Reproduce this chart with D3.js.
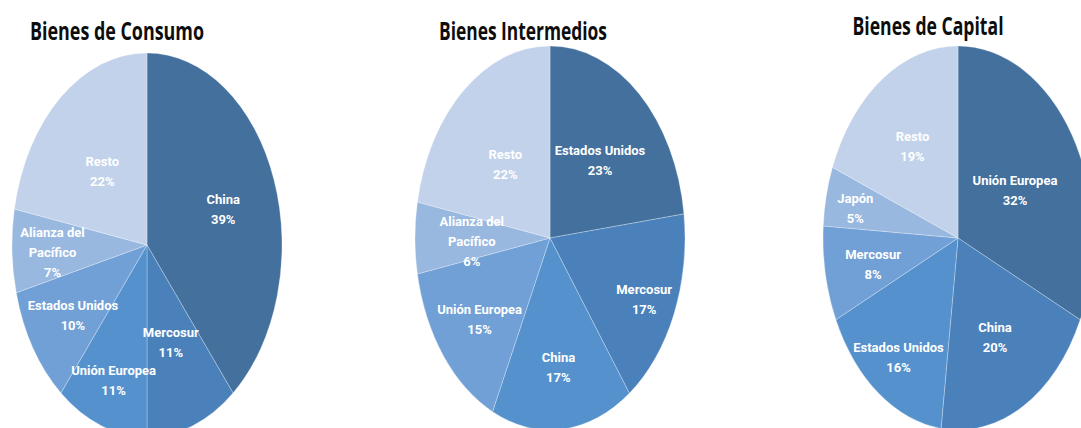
<!DOCTYPE html>
<html>
<head>
<meta charset="utf-8" />
<title>Bienes por destino</title>
<style>
    html, body { margin: 0; padding: 0; background: #fff; }
    svg { display: block; }
    .title { font-family: 'Open Sans', sans-serif; font-weight: bold; fill: #0d0d0d; }
    .lbl { font-family: 'Liberation Sans Narrow', 'Roboto', sans-serif; font-weight: bold; fill: #fff; }
</style>
</head>
<body>
<div class="canvas"></div>
<script src="https://d3js.org/d3.v7.min.js"></script>
<script>
    var width = 1081;
    var height = 428;

    var titles = ["Bienes de Consumo", "Bienes Intermedios", "Bienes de Capital"];

    var consumoNames = ["China", "Mercosur", "Unión Europea", "Estados Unidos", "Alianza del|Pacífico", "Resto"];
    var consumoValues = [39, 11, 11, 10, 7, 22];

    var intermediosNames = ["Estados Unidos", "Mercosur", "China", "Unión Europea", "Alianza del|Pacífico", "Resto"];
    var intermediosValues = [23, 17, 17, 15, 6, 22];

    var capitalNames = ["Unión Europea", "China", "Estados Unidos", "Mercosur", "Japón", "Resto"];
    var capitalValues = [32, 20, 16, 8, 5, 19];

    // slice colours, darkest first (Excel blue gradient)
    var colors = ["#43709d", "#4a81bb", "#5592cd", "#71a0d6", "#99b8e0", "#c1d2ea"];

    // label distance from centre, as a fraction of the radius ("best fit" look)
    var labelPos = [
        [0.60, 0.52, 0.73, 0.65, 0.70, 0.52],
        [0.56, 0.76, 0.66, 0.66, 0.58, 0.52],
        [0.50, 0.57, 0.75, 0.64, 0.78, 0.60]
    ];

    var charts = [
        { title: titles[0], names: consumoNames, values: consumoValues, cx: 147, cy: 245, tx: 117, ty: 40, tw: 174 },
        { title: titles[1], names: intermediosNames, values: intermediosValues, cx: 550, cy: 238, tx: 523, ty: 40, tw: 168 },
        { title: titles[2], names: capitalNames, values: capitalValues, cx: 958, cy: 238, tx: 928, ty: 35, tw: 151 }
    ];

    var rx = 135, ry = 192, r = 100;

    var svg = d3.select(".canvas")
        .append("svg")
        .attr("width", width)
        .attr("height", height);

    var pie = d3.pie().sort(null).value(function(d){ return d.v; });
    var arc = d3.arc().innerRadius(0).outerRadius(r);

    charts.forEach(function(c, ci) {
        var data = c.names.map(function(n, i){ return { name: n, v: c.values[i], i: i }; });
        var arcs = pie(data);

        var g = svg.append("g")
            .attr("transform", "translate(" + c.cx + "," + c.cy + ")");

        g.append("g")
            .attr("transform", "scale(" + (rx / r) + "," + (ry / r) + ")")
            .selectAll("path")
            .data(arcs)
            .enter()
            .append("path")
            .attr("d", arc)
            .attr("fill", function(d){ return colors[d.data.i]; })
            .attr("stroke", "rgba(255,255,255,0.35)")
            .attr("stroke-width", 0.8)
            .style("vector-effect", "non-scaling-stroke");

        var labels = g.selectAll("text.lbl")
            .data(arcs)
            .enter()
            .append("text")
            .attr("class", "lbl")
            .attr("text-anchor", "middle")
            .attr("font-size", 13)
            .attr("transform", function(d){
                var k = labelPos[ci][d.data.i] * r;
                var p = d3.arc().innerRadius(k).outerRadius(k).centroid(d);
                return "translate(" + (p[0] * rx / r) + "," + (p[1] * ry / r) + ")";
            });

        labels.each(function(d){
            var lines = d.data.name.split("|").concat([d.data.v + "%"]);
            var t = d3.select(this);
            var y0 = -(lines.length - 1) * 20 / 2 + 8;
            lines.forEach(function(l, k){
                t.append("tspan").attr("x", 0).attr("y", y0 + k * 20).text(l);
            });
        });

        svg.append("text")
            .attr("class", "title")
            .attr("x", c.tx)
            .attr("y", c.ty)
            .attr("text-anchor", "middle")
            .attr("font-size", 25)
            .attr("textLength", c.tw)
            .attr("lengthAdjust", "spacingAndGlyphs")
            .text(c.title);
    });
</script>
</body>
</html>
